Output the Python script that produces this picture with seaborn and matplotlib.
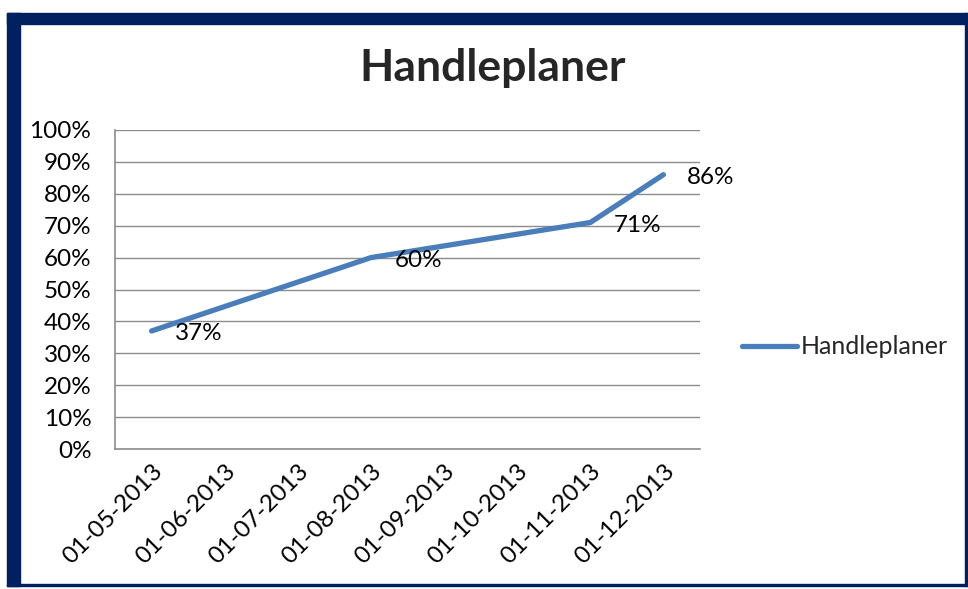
import numpy as np
import pandas as pd
import matplotlib
matplotlib.use("Agg")
import matplotlib.pyplot as plt
from matplotlib.patches import Rectangle
from matplotlib.ticker import PercentFormatter
import seaborn as sns

# Data
categories = ["01-05-2013", "01-06-2013", "01-07-2013", "01-08-2013",
              "01-09-2013", "01-10-2013", "01-11-2013", "01-12-2013"]
point_dates = ["01-05-2013", "01-08-2013", "01-11-2013", "01-12-2013"]
values = [0.37, 0.60, 0.71, 0.86]
series_name = "Handleplaner"

sns.set_theme(style="white")
plt.rcParams["font.family"] = ["Lato", "DejaVu Sans"]

df = pd.DataFrame({
    "pos": [categories.index(d) for d in point_dates],
    "value": values,
})

fig = plt.figure(figsize=(9.68, 5.89), dpi=100)
W, H = 968, 589
ax = fig.add_axes([115 / W, 1 - 449 / H, (700 - 115) / W, (449 - 130) / H])

sns.lineplot(data=df, x="pos", y="value", color="#4A7EBB", linewidth=3.8,
             label=series_name, ax=ax, solid_capstyle="round")

ax.set_xlim(-0.5, len(categories) - 0.5)
ax.set_ylim(0, 1)
ax.set_yticks(np.arange(0, 1.01, 0.1))
ax.yaxis.set_major_formatter(PercentFormatter(1.0, decimals=0))
ax.set_xticks(range(len(categories)))
ax.set_xticklabels(categories, rotation=45, ha="right", rotation_mode="anchor")
ax.tick_params(axis="both", labelsize=17.5, colors="black", length=0)
ax.tick_params(axis="y", pad=17)
ax.tick_params(axis="x", pad=8)
ax.set_xlabel("")
ax.set_ylabel("")
ax.grid(axis="y", color="#8c8c8c", linewidth=1)
ax.set_axisbelow(True)
for side in ["top", "right"]:
    ax.spines[side].set_visible(False)
for side in ["left", "bottom"]:
    ax.spines[side].set_color("#8c8c8c")
    ax.spines[side].set_linewidth(1.2)

# data labels
for x, y in zip(df["pos"], df["value"]):
    ax.annotate(f"{y:.0%}", (x, y), xytext=(17, -2), textcoords="offset points",
                fontsize=17.5, va="center", ha="left", color="black")

ax.legend(loc="center left", bbox_to_anchor=(1.033, 0.32), frameon=False,
          fontsize=18, handlelength=2.2, handletextpad=0.15)

fig.text(493 / W, 1 - 68 / H, "Handleplaner", ha="center", va="center",
         fontsize=32, fontweight="bold")

# frame
navy = "#002060"
fig.patches.append(Rectangle((7 / W, 1 - 586 / H), 13 / W, (586 - 13) / H,
                             transform=fig.transFigure, color=navy, zorder=0))
fig.patches.append(Rectangle((7 / W, 1 - 24 / H), (967 - 7) / W, 11 / H,
                             transform=fig.transFigure, color=navy, zorder=0))
fig.patches.append(Rectangle((965 / W, 1 - 586 / H), 2 / W, (586 - 13) / H,
                             transform=fig.transFigure, color=navy, zorder=0))
fig.patches.append(Rectangle((7 / W, 1 - 586 / H), (967 - 7) / W, 2 / H,
                             transform=fig.transFigure, color=navy, zorder=0))

fig.savefig("out.png", dpi=100)
